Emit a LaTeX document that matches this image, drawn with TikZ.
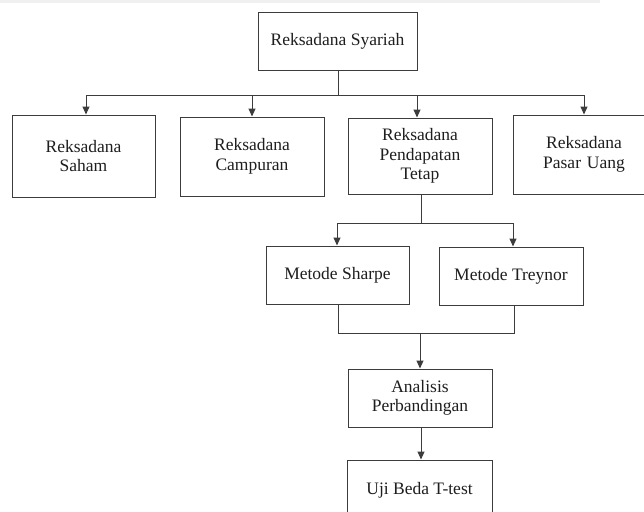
\documentclass[tikz,border=0pt]{standalone}
\usepackage{fontspec}
\setmainfont{Liberation Serif}
\usetikzlibrary{arrows.meta}
\definecolor{ln}{HTML}{3C3C3C}
\definecolor{tx}{HTML}{1E1E1E}
\tikzset{
  box/.style={draw=ln, line width=1pt, fill=white, text=tx, align=center, inner sep=0pt,
    font=\fontsize{17.5}{19.5}\selectfont},
  conn/.style={draw=ln, line width=1pt},
  arr/.style={conn, -{Triangle[width=7pt,length=8pt]}},
}
\begin{document}
\begin{tikzpicture}[x=1pt,y=-1pt]
\clip (0,0) rectangle (644,511);
\fill[white] (0,0) rectangle (644,511);
\fill[gray!12] (0,0) rectangle (600,3);
% nodes
\node[box, minimum width=159pt, minimum height=57pt] (syariah) at (337.5,41.5) {Reksadana Syariah};
\node[box, minimum width=143pt, minimum height=82pt] (saham) at (83.5,156) {Reksadana\\Saham};
\node[box, minimum width=144pt, minimum height=79pt] (campuran) at (252,156.5) {Reksadana\\Campuran};
\node[box, minimum width=144pt, minimum height=76pt] (pendapatan) at (420,156) {Reksadana\\Pendapatan\\Tetap};
\node[box, minimum width=142pt, minimum height=79pt, text width=142pt] (pasar) at (584,154.5) {Reksadana\\Pasar Uang};
\node[box, minimum width=143pt, minimum height=58pt] (sharpe) at (337.5,275) {Metode Sharpe};
\node[box, minimum width=144pt, minimum height=58pt] (treynor) at (511,276) {Metode Treynor};
\node[box, minimum width=144pt, minimum height=58pt] (analisis) at (420,398) {Analisis\\Perbandingan};
\node[box, minimum width=145pt, minimum height=60pt] (uji) at (419.5,490) {Uji Beda T-test};
% junction coordinates
\coordinate (t0) at (338,95);
\coordinate (t1) at (86,95);
\coordinate (t2) at (252,95);
\coordinate (t3) at (417,95);
\coordinate (t4) at (584,95);
\coordinate (m0) at (421,223);
\coordinate (m1) at (337,223);
\coordinate (m2) at (513,223);
\coordinate (b1) at (338,333);
\coordinate (b2) at (514,333);
\coordinate (b0) at (420,333);
% connectors level 1
\draw[conn] (syariah.south -| t0) -- (t0);
\draw[conn] (t1) -- (t4);
\draw[arr] (t1) -- (saham.north -| t1);
\draw[arr] (t2) -- (campuran.north -| t2);
\draw[arr] (t3) -- (pendapatan.north -| t3);
\draw[arr] (t4) -- (pasar.north -| t4);
% level 2
\draw[conn] (pendapatan.south -| m0) -- (m0);
\draw[conn] (m1) -- (m2);
\draw[arr] (m1) -- (sharpe.north -| m1);
\draw[arr] (m2) -- (treynor.north -| m2);
% merge
\draw[conn] (sharpe.south -| b1) -- (b1) -- (b2) -- (treynor.south -| b2);
\draw[arr] (b0) -- (analisis.north -| b0);
\draw[arr] (analisis.south -| 421,0) -- (uji.north -| 421,0);
\end{tikzpicture}
\end{document}
